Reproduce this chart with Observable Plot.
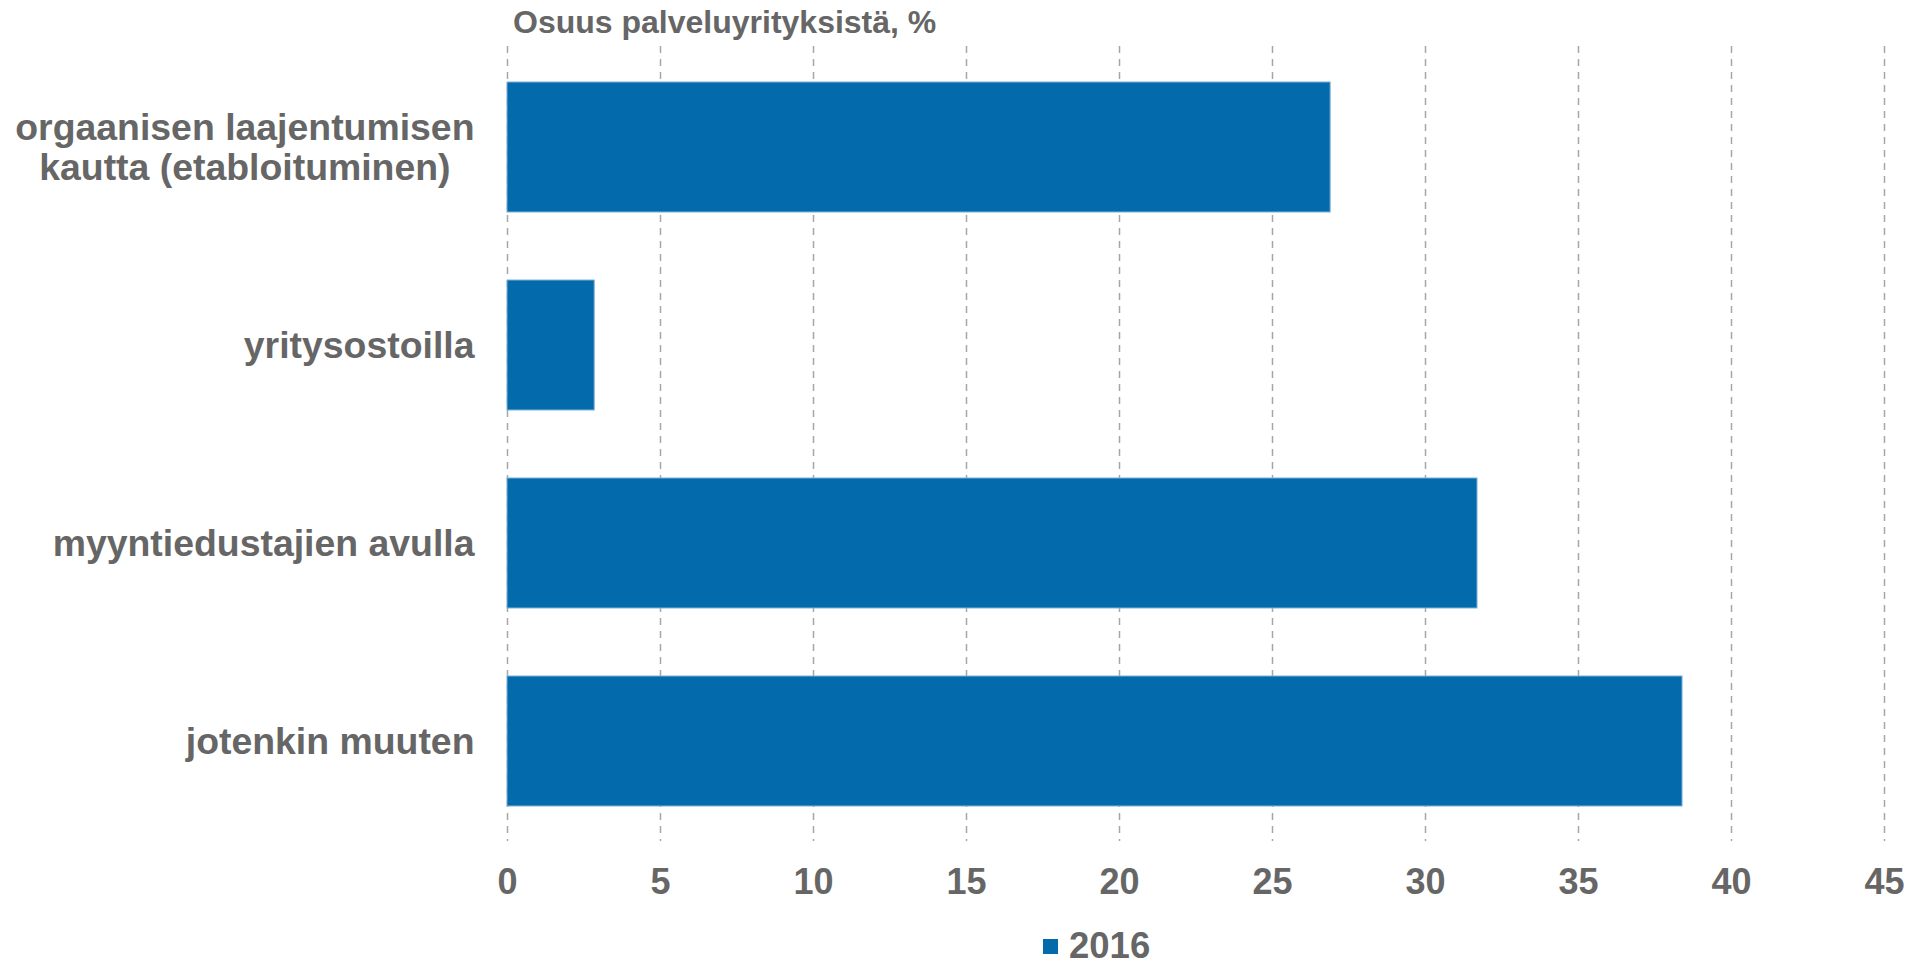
<!DOCTYPE html>
<html>
<head>
<meta charset="utf-8">
<script src="https://cdn.jsdelivr.net/npm/d3@7"></script>
<script src="https://cdn.jsdelivr.net/npm/@observablehq/plot@0.6"></script>
<style>
  html, body { margin: 0; padding: 0; background: #fff; overflow: hidden; }
  body { font-family: "Liberation Sans", Arial, sans-serif; color: #666666; }
  #title { height: 40px; line-height: 44px; padding-left: 513px; font-size: 32px; font-weight: bold; white-space: nowrap; }
  #legend { position: absolute; left: 1043px; top: 930px; height: 32px; display: flex; align-items: center; font-size: 36.5px; font-weight: bold; line-height: 32px; }
  #legend .sw { width: 15px; height: 15px; margin-right: 11px; }
</style>
</head>
<body>
<div id="title"></div>
<div id="chart"></div>
<div id="legend"><span class="sw"></span><span class="lab"></span></div>
<script>
const categories = [
  "orgaanisen laajentumisen\nkautta (etabloituminen)",
  "yritysostoilla",
  "myyntiedustajien avulla",
  "jotenkin muuten"
];
const values2016 = [26.9, 2.85, 31.7, 38.4];
const xTicks = [0, 5, 10, 15, 20, 25, 30, 35, 40, 45];
const seriesName = "2016";
const titleText = "Osuus palveluyrityksistä, %";
const barColor = "#036aab";

const data = categories.map((c, i) => ({category: c, value: values2016[i]}));

document.getElementById("title").textContent = titleText;
document.querySelector("#legend .sw").style.background = barColor;
document.querySelector("#legend .lab").textContent = seriesName;

const labelFontSize = 37.4;
const labelPad = 33;
const ctx = document.createElement("canvas").getContext("2d");
ctx.font = `bold ${labelFontSize}px "Liberation Sans", Arial, sans-serif`;
const widest = (s) => Math.max(...s.split("\n").map(l => ctx.measureText(l).width));
const singleLine = categories.filter(c => !c.includes("\n"));
const multiLine = categories.filter(c => c.includes("\n"));

const yAxisCommon = {tickSize: 0, fontSize: labelFontSize, fontWeight: "bold", fill: "#666666", label: null, lineHeight: 1.07};

const chart = Plot.plot({
  width: 1924,
  height: 885,
  marginTop: 6,
  marginBottom: 84,
  marginLeft: 507,
  marginRight: 40,
  style: {fontFamily: "Liberation Sans, Arial, sans-serif", color: "#666666", background: "#fff"},
  x: {domain: [0, 45], ticks: xTicks},
  y: {domain: categories, paddingInner: 0.344, paddingOuter: 0.172},
  marks: [
    Plot.gridX(xTicks, {stroke: "#a6a6a6", strokeOpacity: 1, strokeWidth: 1.5, strokeDasharray: "7,6"}),
    Plot.barX(data, {x: "value", y: "category", fill: barColor, stroke: "#7fb2d8", strokeWidth: 1}),
    Plot.axisX(xTicks, {tickSize: 0, tickPadding: 26.5, fontSize: 36, fontWeight: "bold", fill: "#666666", label: null}),
    Plot.axisY(singleLine, {...yAxisCommon, tickPadding: labelPad}),
    ...multiLine.map(c => Plot.axisY([c], {...yAxisCommon, tickPadding: 0, textAnchor: "middle", dx: -(labelPad + widest(c) / 2)}))
  ]
});
document.getElementById("chart").appendChild(chart);
</script>
</body>
</html>
